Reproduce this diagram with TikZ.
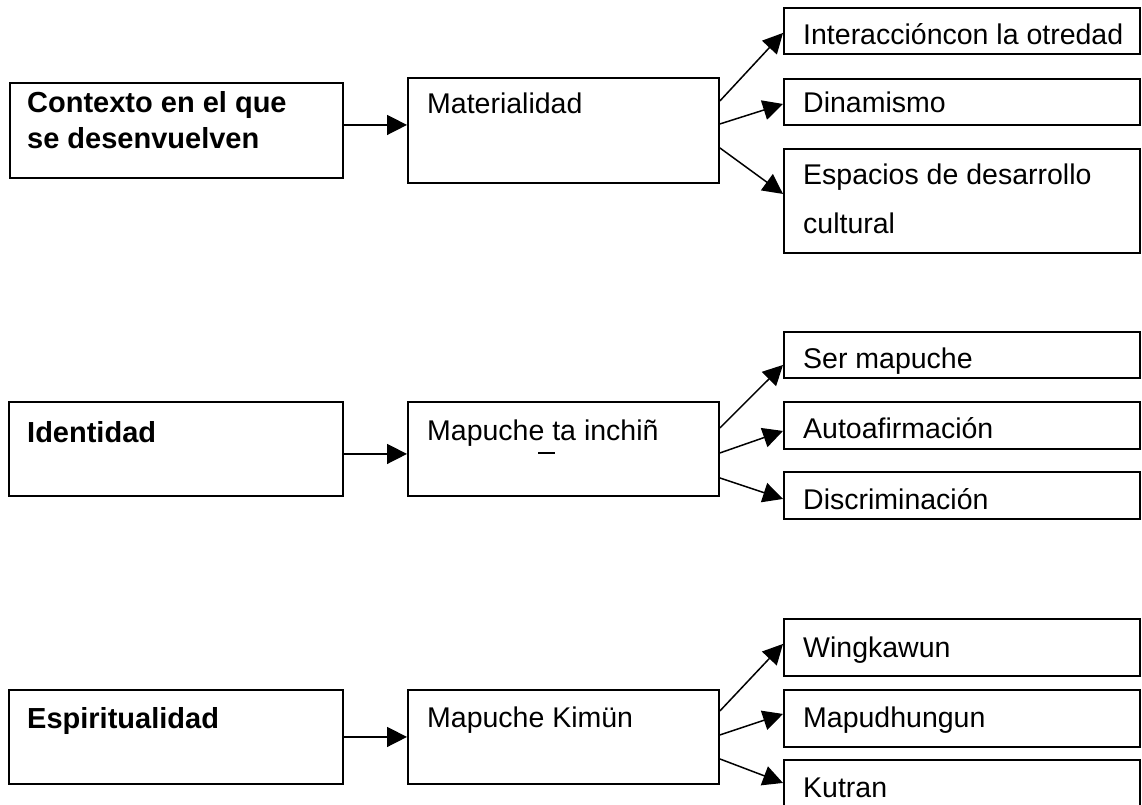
\documentclass[tikz,border=0pt]{standalone}
\usepackage{fontspec}
\setmainfont{Liberation Sans}
\usetikzlibrary{arrows.meta}
\begin{document}
\begin{tikzpicture}[x=1pt,y=-1pt,
  box/.style={draw, line width=1.9pt, inner sep=0pt, anchor=north west},
  lbl/.style={anchor=base west, inner sep=0pt, font=\fontsize{28.5}{34}\selectfont},
  blbl/.style={anchor=base west, inner sep=0pt, font=\fontsize{29}{34}\selectfont\bfseries},
  arr/.style={line width=1.5pt, -{Triangle[length=20pt,width=20pt]}}]
\clip (0,0) rectangle (1142,805);
\fill[white] (0,0) rectangle (1142,805);
% row 1
\node[box, minimum width=333pt, minimum height=95pt] (ctx) at (9,82) {};
\node[box, minimum width=311pt, minimum height=105pt] (mat) at (407,77) {};
\node[box, minimum width=356pt, minimum height=46pt] (int) at (783,7) {};
\node[box, minimum width=356pt, minimum height=46pt] (din) at (783,78) {};
\node[box, minimum width=356pt, minimum height=104pt] (esp) at (783,148) {};
\node[blbl] (ctxa) at (27,113) {Contexto en el que};
\node[blbl] (ctxb) at (27,149) {se desenvuelven};
\node[lbl] (matt) at (427,114) {Materialidad};
\node[lbl] (intt) at (803,45) {Interaccióncon la otredad};
\node[lbl] (dint) at (803,113) {Dinamismo};
\node[lbl] (espa) at (803,185) {Espacios de desarrollo};
\node[lbl] (espb) at (803,233) {cultural};
\draw[arr] ([yshift=5.5pt]ctx.east) -- ([yshift=5.5pt]mat.west);
\draw[arr] ([yshift=29.5pt]mat.east) -- ([yshift=-2pt]int.west);
\draw[arr] ([yshift=6.5pt]mat.east) -- ([yshift=-2pt]din.west);
\draw[arr] ([yshift=-17.5pt]mat.east) -- ([yshift=7pt]esp.west);
% row 2
\node[box, minimum width=334pt, minimum height=94pt] (ide) at (8,401) {};
\node[box, minimum width=311pt, minimum height=94pt] (mti) at (407,401) {};
\node[box, minimum width=356pt, minimum height=46pt] (ser) at (783,331) {};
\node[box, minimum width=356pt, minimum height=47pt] (aut) at (783,401) {};
\node[box, minimum width=356pt, minimum height=47pt] (dis) at (783,471) {};
\node[blbl] (idet) at (27,442) {Identidad};
\node[lbl] (mtit) at (427,440) {Mapuche ta inchiñ};
\draw[line width=2pt] (538,453) -- (555,453);
\node[lbl] (sert) at (803,368) {Ser mapuche};
\node[lbl] (autt) at (803,438) {Autoafirmación};
\node[lbl] (dist) at (803,509) {Discriminación};
\draw[arr] ([yshift=-5pt]ide.east) -- ([yshift=-5pt]mti.west);
\draw[arr] ([yshift=21pt]mti.east) -- ([yshift=-10pt]ser.west);
\draw[arr] ([yshift=-4pt]mti.east) -- ([yshift=-5.5pt]aut.west);
\draw[arr] ([yshift=-29pt]mti.east) -- ([yshift=-3.5pt]dis.west);
% row 3
\node[box, minimum width=334pt, minimum height=94pt] (espi) at (8,689) {};
\node[box, minimum width=311pt, minimum height=94pt] (mki) at (407,689) {};
\node[box, minimum width=356pt, minimum height=57pt] (win) at (783,618) {};
\node[box, minimum width=356pt, minimum height=57pt] (mpd) at (783,689) {};
\node[box, minimum width=356pt, minimum height=70pt] (kut) at (783,759) {};
\node[blbl] (espit) at (27,728) {Espiritualidad};
\node[lbl] (mkit) at (427,727) {Mapuche Kimün};
\node[lbl] (wint) at (803,657) {Wingkawun};
\node[lbl] (mpdt) at (803,727) {Mapudhungun};
\node[lbl] (kutt) at (803,797) {Kutran};
\draw[arr] (espi.east) -- (mki.west);
\draw[arr] ([yshift=26pt]mki.east) -- ([yshift=3.5pt]win.west);
\draw[arr] ([yshift=2pt]mki.east) -- ([yshift=4.5pt]mpd.west);
\draw[arr] ([yshift=-22pt]mki.east) -- ([yshift=12pt]kut.west);
\end{tikzpicture}
\end{document}
